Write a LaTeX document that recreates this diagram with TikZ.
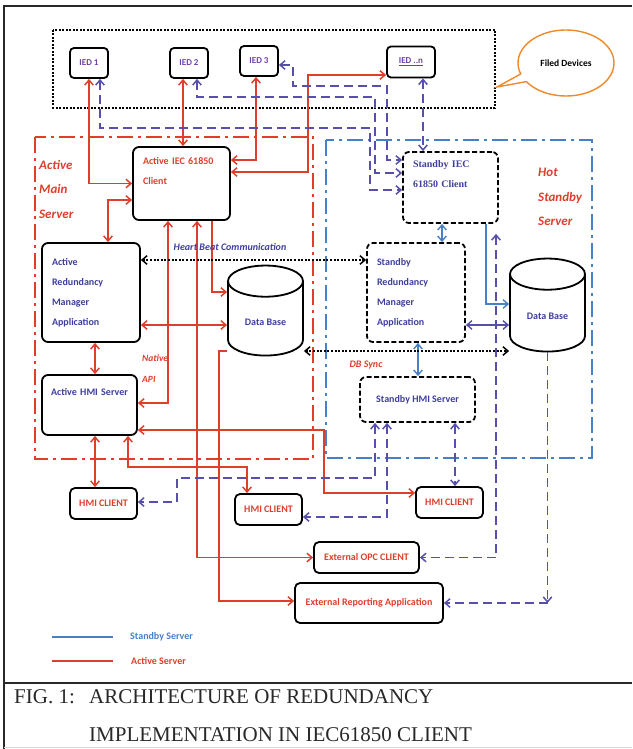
\documentclass[tikz,border=0pt]{standalone}
\usepackage{fontspec}
\setmainfont{Carlito}
\newfontfamily\timesfont{Liberation Serif}
\usetikzlibrary{arrows.meta,shapes.geometric,shapes.callouts}

\definecolor{actred}{RGB}{222,62,42}
\definecolor{sbyblue}{RGB}{72,128,200}
\definecolor{sbydash}{RGB}{86,80,172}
\definecolor{txtblue}{RGB}{62,62,156}
\definecolor{iedpurple}{RGB}{112,64,168}
\definecolor{callorange}{RGB}{238,138,42}
\definecolor{capgray}{RGB}{40,40,40}

\newcommand{\boxfont}{\fontsize{10}{20}\selectfont\bfseries}
\newcommand{\iedfont}{\fontsize{9}{11}\selectfont\bfseries}
\newcommand{\sclientfont}{\timesfont\fontsize{10}{20}\selectfont\bfseries}
\newcommand{\regionfont}{\fontsize{13}{24.5}\selectfont\bfseries\itshape}
\newcommand{\lblfont}{\fontsize{10}{21}\selectfont\bfseries\itshape}
\newcommand{\capfont}{\timesfont\fontsize{21}{25}\selectfont}

\begin{document}
\begin{tikzpicture}[x=1pt, y=-1pt,
		>={Straight Barb[length=5pt,width=8.5pt]},
		box/.style={draw, line width=1.8pt, rounded corners=6pt, inner xsep=10pt, inner ysep=2pt, font=\boxfont},
		sbox/.style={box, dash pattern=on 5pt off 2.5pt},
		ied/.style={box, rounded corners=4pt, minimum width=38, minimum height=30, inner xsep=2pt, text=iedpurple, font=\iedfont},
		client/.style={box, rounded corners=5pt, minimum height=31, inner xsep=2pt, text=actred},
		db/.style={cylinder, shape border rotate=90, aspect=0.65, draw, line width=1.8pt, minimum width=75, minimum height=90, text=txtblue, font=\boxfont},
		actline/.style={actred, line width=1.5pt},
		sbyline/.style={sbyblue, line width=1.4pt},
		sbypurple/.style={sbydash, line width=1.4pt},
		sbydashed/.style={sbydash, line width=1.5pt, dash pattern=on 9pt off 5pt},
		syncline/.style={black, line width=1.5pt, dash pattern=on 2pt off 1.6pt},
		lbl/.style={font=\lblfont, inner sep=0pt}]
	
	\useasboundingbox (0,0) rectangle (632,749);
	
	\draw[line width=1.6pt, capgray] (632,6) -- (4,6) -- (4,749);
	\draw[line width=1.6pt, capgray] (4,683) -- (632,683);
	\draw[line width=0.6pt, black!15] (4,747) -- (632,747);
	
	\node[font=\capfont, text=capgray, anchor=base west, inner sep=0pt] (capfig) at (14,703.5) {FIG. 1:};
	\node[font=\capfont, text=capgray, anchor=base west, inner sep=0pt] (capline1) at (89,703.5) {ARCHITECTURE OF REDUNDANCY};
	\node[font=\capfont, text=capgray, anchor=base west, inner sep=0pt] (capline2) at (89,741) {IMPLEMENTATION IN IEC61850 CLIENT};
	
	\draw[line width=2pt, dash pattern=on 2pt off 1.5pt] (53,30) rectangle (495,108);
	\node[ellipse callout, draw=callorange, line width=1.4pt, callout absolute pointer={(497,87)}, minimum width=96, minimum height=66, font=\fontsize{9.5}{11}\selectfont\bfseries] (filed) at (566,63) {Filed Devices};
	
	\draw[actred, line width=2pt, dash pattern=on 16pt off 5pt on 3pt off 5pt] (35,137) rectangle (313,459);
	\draw[sbyblue, line width=1.8pt, dash pattern=on 16pt off 5pt on 3pt off 5pt] (326,140) rectangle (592,458);
	\node[font=\regionfont, text=actred, align=left, anchor=west, inner sep=0pt] (actname) at (39,189) {Active\\Main\\Server};
	\node[font=\regionfont, text=actred, align=left, anchor=west, inner sep=0pt] (sbyname) at (538,197) {Hot\\Standby\\Server};
	
	\node[ied] (ied1) at (89,63) {IED 1};
	\node[ied] (ied2) at (189,63) {IED 2};
	\node[ied] (ied3) at (259,61) {IED 3};
	\node[ied, minimum width=48, minimum height=31] (iedn) at (411,62) {\underline{IED ..n}};
	
	\node[box, text=actred, align=left, text width=77pt, minimum height=73] (aclient) at (181.5,183.5) {Active IEC 61850\\Client\\\strut};
	\node[box, text=txtblue, align=left, text width=78pt, minimum height=99] (arm) at (91,292.5) {Active\\Redundancy\\Manager\\Application};
	\node[box, text=txtblue, align=center, text width=80pt, inner xsep=7.5pt, minimum height=60] (ahmi) at (89.5,405) {Active HMI Server\\\strut};
	\node[db] (adb) at (265.5,322) {Data Base};
	
	\node[sbox, text=txtblue, align=left, text width=75pt, minimum height=71, font=\sclientfont] (sclient) at (450.5,187.5) {Standby IEC\\61850 Client\\\strut};
	\node[sbox, text=txtblue, align=left, text width=78pt, minimum height=99] (srm) at (416,292.5) {Standby\\Redundancy\\Manager\\Application};
	\node[sbox, text=txtblue, minimum width=115, minimum height=45, inner xsep=2pt] (shmi) at (417.5,399.5) {Standby HMI Server};
	\node[db, minimum height=93] (sdb) at (547.5,316.5) {Data Base};
	
	\node[client, minimum width=67] (hmic1) at (103.5,503.5) {HMI CLIENT};
	\node[client, minimum width=67] (hmic2) at (268.5,509.5) {HMI CLIENT};
	\node[client, minimum width=67] (hmic3) at (449.5,502.5) {HMI CLIENT};
	\node[client, minimum width=105] (opc) at (366.5,557.5) {External OPC CLIENT};
	\node[client, minimum width=148, minimum height=40] (rep) at (369,603) {External Reporting Application};
	
	\draw[actline, <->] (ied1.south) |- (aclient.west);
	\draw[actline, <->] ([xshift=-6]ied2.south) -- ([xshift=1.5]aclient.north);
	\draw[actline, <->] ([xshift=-3]ied3.south) |- ([yshift=23.5]aclient.east);
	\draw[actline, <->] ([yshift=11.5]aclient.east) -- (308,172) |- ([yshift=-13]iedn.west);
	\draw[actline, <->] ([xshift=17]arm.north) |- ([yshift=-16.5]aclient.west);
	\draw[actline, ->] ([xshift=30.5]aclient.south) |- ([yshift=30]adb.180);
	\draw[actline, <->] ([yshift=-32.5]arm.east) -- ([yshift=-3]adb.180);
	\draw[actline, <->] ([xshift=4]arm.south) -- ([xshift=5.5]ahmi.north);
	\draw[actline, <->] ([xshift=-13.5]aclient.south) |- ([yshift=2]ahmi.east);
	\draw[actline, <->] ([xshift=15.5]aclient.south) |- (opc.west);
	\draw[actline, ->] ([yshift=-29]adb.180) -- ++(-8,0) |- ([yshift=2]rep.west);
	\draw[actline, <->] ([xshift=5.5]ahmi.south) -- ([xshift=-8.5]hmic1.north);
	\draw[actline, <->] ([xshift=38.5]ahmi.south) -- ++(0,31) -| ([xshift=-21.5]hmic2.north);
	\draw[actline, <->] ([yshift=-25]ahmi.east) -- (324,430) |- ([yshift=9.5]hmic3.west);
	
	\draw[sbydashed, <->] ([xshift=11]ied1.south) -- (100,128) -- (370,128) |- ([yshift=-2.5]sclient.west);
	\draw[sbydashed, <->] ([xshift=8]ied2.south) -- (197,97) -- (375,97) |- ([yshift=14.5]sclient.west);
	\draw[sbydashed, <->] ([yshift=-4]ied3.east) -| (293,86) -- (387,86) |- ([yshift=27.5]sclient.west);
	\draw[sbydashed, <->] ([xshift=12]iedn.south) -- ([xshift=-27.5]sclient.north);
	\draw[sbydashed, <->] ([xshift=45.5,yshift=-10]sclient.south) |- (opc.east);
	\draw[sbydashed, <->] ([xshift=-42.5]shmi.south) |- (177,478) |- ([yshift=1.5]hmic1.east);
	\draw[sbydashed, <->] ([xshift=-30.5]shmi.south) |- ([yshift=-7.5]hmic2.east);
	\draw[sbydashed, <->] ([xshift=37.5]shmi.south) -- ([xshift=5.5]hmic3.north);
	\coordinate (repbend) at (547.5,603);
	\draw[sbydashed, ->] (sdb.270) -- (repbend);
	\draw[sbydashed, ->] (repbend) -- (rep.east);
	
	\draw[sbyline, <->] ([xshift=-8.5]sclient.south) -- ([xshift=26]srm.north);
	\draw[sbyline, ->] ([xshift=35.5]sclient.south) |- ([yshift=12.5]sdb.180);
	\draw[sbyline, <->] ([xshift=2]srm.south) -- ([xshift=0.5]shmi.north);
	\draw[sbypurple, <->] ([yshift=-32.5]srm.east) -- ([yshift=-8.5]sdb.180);
	
	\draw[syncline, <->] ([yshift=32.5]arm.east) -- ([yshift=32.5]srm.west);
	\draw[syncline, <->] ([yshift=-29]adb.0) -- ([yshift=-34.5]sdb.180);
	\node[lbl, text=txtblue] (hbtext) at (230,247) {Heart Beat Communication};
	\node[lbl, text=actred] (dbsync) at (366,365) {DB Sync};
	\node[lbl, text=actred, align=left, anchor=west, font=\fontsize{9.5}{21}\selectfont\bfseries\itshape] (natapi) at (142,368.5) {Native\\API};
	
	\coordinate (lgsbyA) at (52,637);
	\coordinate (lgsbyB) at (113,637);
	\coordinate (lgactA) at (52,661);
	\coordinate (lgactB) at (113,661);
	\draw[sbyblue, line width=1.3pt] (lgsbyA) -- (lgsbyB);
	\draw[actred, line width=1.6pt] (lgactA) -- (lgactB);
	\node[anchor=west, text=sbyblue, font=\fontsize{10}{12}\selectfont\bfseries, inner sep=0pt] (lgsby) at (130,637) {Standby Server};
	\node[anchor=west, text=actred, font=\fontsize{10}{12}\selectfont\bfseries, inner sep=0pt] (lgact) at (131,661) {Active Server};
	
\end{tikzpicture}
\end{document}
